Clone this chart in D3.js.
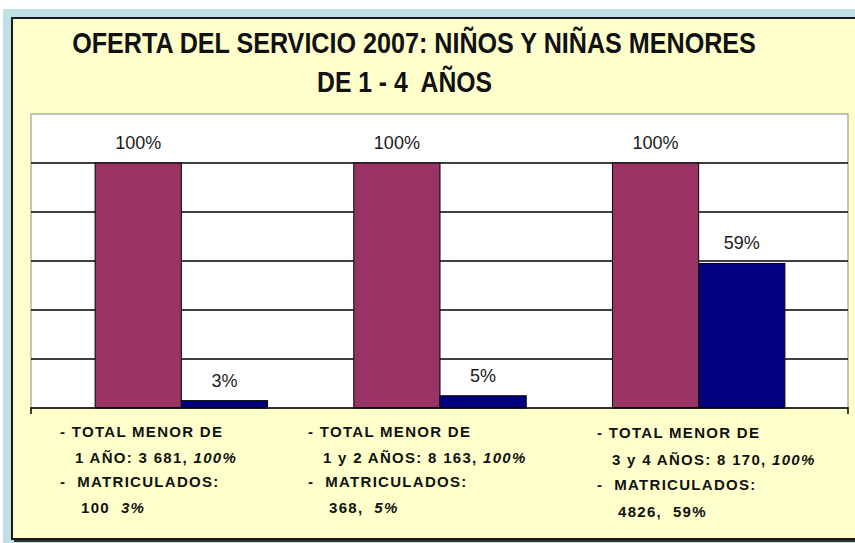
<!DOCTYPE html>
<html>
<head>
<meta charset="utf-8">
<script src="https://cdn.jsdelivr.net/npm/d3@7"></script>
<style>
  body { margin: 0; background: #fff; }
  svg { display: block; }
</style>
</head>
<body>
<svg></svg>
<script>
var WIDTH = 855;
var HEIGHT = 543;

// data
var categories = ['1 año', '1 y 2 años', '3 y 4 años'];
var series = ['Total', 'Matriculados'];
var totalValues = [100, 100, 100];
var matriculadosValues = [3, 5, 59];
var yTicks = [0, 20, 40, 60, 80, 100, 120];
var titleLines = ['OFERTA DEL SERVICIO 2007: NIÑOS Y NIÑAS MENORES', 'DE 1 - 4  AÑOS'];
// notes under each group: [plain, italic] parts per line
var noteLines = [
  [['- TOTAL MENOR DE', ''], ['1 AÑO: 3 681, ', '100%'], ['-  MATRICULADOS:', ''], ['100  ', '3%']],
  [['- TOTAL MENOR DE', ''], ['1 y 2 AÑOS: 8 163, ', '100%'], ['-  MATRICULADOS:', ''], ['368,  ', '5%']],
  [['- TOTAL MENOR DE', ''], ['3 y 4 AÑOS: 8 170, ', '100%'], ['-  MATRICULADOS:', ''], ['4826,  59%', '']]
];

var colors = { Total: '#993366', Matriculados: '#000080' };

var svg = d3.select('svg')
  .attr('width', WIDTH)
  .attr('height', HEIGHT);

// background / frame
svg.append('rect').attr('x', 3).attr('y', 9).attr('width', WIDTH).attr('height', HEIGHT)
  .attr('fill', '#bfe1e6');
svg.append('rect').attr('x', 14).attr('y', 20).attr('width', WIDTH).attr('height', 522)
  .attr('fill', '#333');
svg.append('rect').attr('x', 12).attr('y', 18).attr('width', WIDTH).attr('height', 521)
  .attr('fill', '#ffffcc').attr('stroke', '#1a1a1a').attr('stroke-width', 2);

// title, squeezed horizontally like a narrow font
var titleX = [414, 404.5];
var titleY = [53, 92];
var titleW = [684, 175];

svg.selectAll('g.title')
  .data(titleLines)
  .enter()
  .append('g')
  .attr('class', 'title')
  .each(function(d, i) {
    var g = d3.select(this);
    var t = g.append('text')
      .attr('x', 0)
      .attr('y', 0)
      .attr('text-anchor', 'middle')
      .style('white-space', 'pre')
      .style('font-family', '"Liberation Sans Narrow", "Arial Narrow", "Liberation Sans", Arial, sans-serif')
      .style('font-weight', 'bold')
      .style('font-size', '29px')
      .attr('fill', '#111')
      .text(d);
    var k = titleW[i] / t.node().getComputedTextLength();
    g.attr('transform', 'translate(' + titleX[i] + ',' + titleY[i] + ') scale(' + k + ',1)');
  });

// plot area
var plot = { left: 31, right: 848, top: 114, bottom: 408 };

svg.append('rect')
  .attr('x', plot.left).attr('y', plot.top)
  .attr('width', plot.right - plot.left).attr('height', plot.bottom - plot.top)
  .attr('fill', '#fff').attr('stroke', '#8a8a8a').attr('stroke-width', 1);

var yScale = d3.scaleLinear()
  .domain([0, 120])
  .range([plot.bottom, plot.top]);

var x0 = d3.scaleBand()
  .domain(categories)
  .range([52, 828]);

var x1 = d3.scaleBand()
  .domain(series)
  .range([0, x0.bandwidth()])
  .paddingOuter(0.5);

// gridlines
svg.selectAll('line.grid')
  .data(yTicks.slice(1, -1))
  .enter()
  .append('line')
  .attr('class', 'grid')
  .attr('x1', plot.left).attr('x2', plot.right)
  .attr('y1', function(d) { return yScale(d); })
  .attr('y2', function(d) { return yScale(d); })
  .attr('stroke', '#000').attr('stroke-width', 1.5);

// bars
var rows = categories.map(function(c, i) {
  return [
    { cat: c, key: 'Total', value: totalValues[i] },
    { cat: c, key: 'Matriculados', value: matriculadosValues[i] }
  ];
});

var groups = svg.selectAll('g.group')
  .data(rows)
  .enter()
  .append('g')
  .attr('class', 'group')
  .attr('transform', function(d, i) { return 'translate(' + x0(categories[i]) + ',0)'; });

groups.selectAll('rect')
  .data(function(d) { return d; })
  .enter()
  .append('rect')
  .attr('x', function(d) { return x1(d.key); })
  .attr('width', x1.bandwidth())
  .attr('y', function(d) { return yScale(d.value); })
  .attr('height', function(d) { return yScale(0) - yScale(d.value); })
  .attr('fill', function(d) { return colors[d.key]; })
  .attr('stroke', '#000')
  .attr('stroke-width', 1);

groups.selectAll('text.val')
  .data(function(d) { return d; })
  .enter()
  .append('text')
  .attr('class', 'val')
  .attr('x', function(d) { return x1(d.key) + x1.bandwidth() / 2; })
  .attr('y', function(d) { return yScale(d.value) - 14; })
  .attr('text-anchor', 'middle')
  .style('font-family', '"Liberation Sans", Arial, sans-serif')
  .style('font-size', '18px')
  .attr('fill', '#1a1a1a')
  .text(function(d) { return d.value + '%'; });

// x axis line with end ticks
svg.append('path')
  .attr('d', 'M' + plot.left + ',' + (plot.bottom + 6) + 'V' + plot.bottom + 'H' + plot.right + 'V' + (plot.bottom + 6))
  .attr('fill', 'none')
  .attr('stroke', '#000')
  .attr('stroke-width', 1.5);

// notes under the chart
var noteX = [60, 308, 597];
var lineDx = [0, 15, 0, 21];
var lineY = [437, 463, 487, 513];

var notes = svg.selectAll('g.note')
  .data(noteLines)
  .enter()
  .append('g')
  .attr('class', 'note');

notes.each(function(lines, gi) {
  var g = d3.select(this);
  lines.forEach(function(parts, li) {
    var t = g.append('text')
      .attr('x', noteX[gi] + lineDx[li])
      .attr('y', lineY[li] + (gi === 2 ? li + 1 : 0))
      .style('white-space', 'pre')
      .style('font-family', '"Liberation Sans", Arial, sans-serif')
      .style('font-weight', 'bold')
      .style('font-size', '15px')
      .style('letter-spacing', '1.3px')
      .attr('fill', '#111');
    t.append('tspan').text(parts[0]);
    if (parts[1]) {
      t.append('tspan').style('font-style', 'italic').text(parts[1]);
    }
  });
});
</script>
</body>
</html>
